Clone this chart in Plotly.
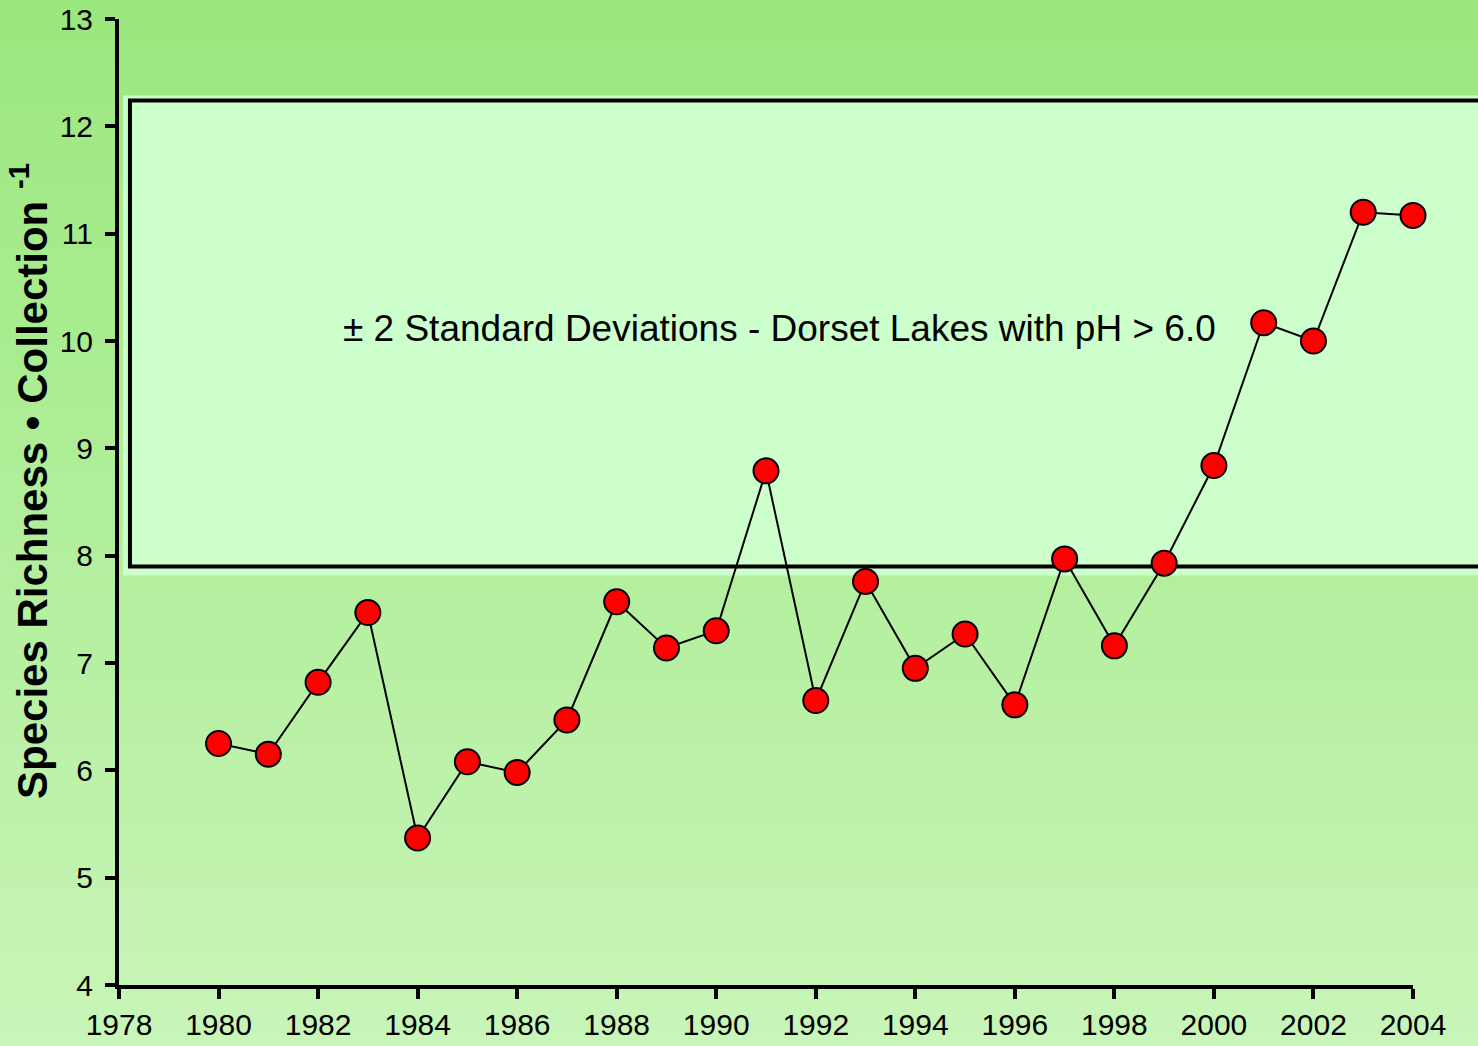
import plotly.graph_objects as go

years = list(range(1980, 2005))
richness = [6.25, 6.15, 6.82, 7.47, 5.37, 6.08, 5.98, 6.47, 7.57, 7.14, 7.30, 8.79,
            6.65, 7.76, 6.95, 7.27, 6.61, 7.97, 7.16, 7.93, 8.84, 10.17, 10.00, 11.20, 11.17]

band_low = 7.90
band_high = 12.24
band_label = "± 2 Standard Deviations - Dorset Lakes with pH > 6.0"
y_title = "<b>Species Richness • Collection <sup>-1</sup></b>"
x_range = [1978, 2004]
y_range = [4, 13]
x_ticks = list(range(1978, 2005, 2))
y_ticks = list(range(4, 14))

W, H = 1478, 1046
ML, MR, MT, MB = 119, 65, 19, 61
plot_h = H - MT - MB
plot_w = W - ML - MR

def ypaper(v):
    return (v - y_range[0]) / (y_range[1] - y_range[0])

def xpaper(v):
    return (v - x_range[0]) / (x_range[1] - x_range[0])

shapes = []
# background gradient (paper coords spanning the whole figure)
top_c = (155, 232, 126)
bot_c = (200, 245, 184)
n = 80
y_top = 1 + MT / plot_h
y_bot = -MB / plot_h
for i in range(n):
    t = i / (n - 1)
    c = tuple(round(top_c[k] + (bot_c[k] - top_c[k]) * t) for k in range(3))
    y1 = y_top - (y_top - y_bot) * i / n + (0.01 if i == 0 else 0)
    y0 = y_top - (y_top - y_bot) * (i + 1) / n - (0.01 if i == n - 1 else 0.002)
    shapes.append(dict(type="rect", xref="paper", yref="paper",
                       x0=-ML / plot_w - 0.01, x1=1 + MR / plot_w + 0.01, y0=y0, y1=y1,
                       fillcolor=f"rgb{c}", line=dict(width=0), layer="below"))

# band fill (slightly larger) and black outline
shapes.append(dict(type="rect", xref="paper", yref="paper",
                   x0=xpaper(1978.08), x1=1 + MR / plot_w + 0.01,
                   y0=ypaper(band_low) - 9 / plot_h, y1=ypaper(band_high) + 5 / plot_h,
                   fillcolor="#ccffcc", line=dict(width=0), layer="below"))
shapes.append(dict(type="rect", xref="paper", yref="paper",
                   x0=xpaper(1978.22), x1=1 + MR / plot_w + 0.02,
                   y0=ypaper(band_low), y1=ypaper(band_high),
                   fillcolor="rgba(0,0,0,0)", line=dict(width=4, color="black"), layer="below"))

fig = go.Figure()
fig.add_trace(go.Scatter(
    x=years, y=richness, mode="lines+markers",
    line=dict(color="black", width=2),
    marker=dict(size=25, color="#ff0000", line=dict(color="black", width=2)),
    showlegend=False, cliponaxis=False))

fig.add_annotation(x=1991.28, y=10.12, text=band_label, showarrow=False,
                   font=dict(family="Liberation Sans, Arial", size=37, color="black"))

fig.add_annotation(xref="paper", yref="paper", x=(29 - ML) / plot_w, y=0.5 + 21 / plot_h,
                   text=y_title, textangle=-90, showarrow=False,
                   xanchor="center", yanchor="middle",
                   font=dict(family="Liberation Sans, Arial", size=42, color="black"))

font = dict(family="Liberation Sans, Arial", size=30, color="black")
fig.update_layout(
    width=W, height=H,
    margin=dict(l=ML, r=MR, t=MT, b=MB, pad=0, autoexpand=False),
    paper_bgcolor="#c6f4b6", plot_bgcolor="rgba(0,0,0,0)",
    shapes=shapes, font=font,
    xaxis=dict(range=x_range, tickvals=x_ticks, ticks="outside", ticklen=10,
               tickwidth=4, tickcolor="black", showline=True, linewidth=4,
               linecolor="black", showgrid=False, zeroline=False,
               tickfont=font, automargin=False),
    yaxis=dict(range=y_range, tickvals=y_ticks, ticks="outside", ticklen=10,
               tickwidth=4, tickcolor="black", showline=True, linewidth=4,
               linecolor="black", showgrid=False, zeroline=False,
               tickfont=font, ticklabelstandoff=6, automargin=False),
)
fig.write_html("out.html", config={"displayModeBar": False},
               post_script="document.body.style.margin='0';document.body.style.padding='0';")
